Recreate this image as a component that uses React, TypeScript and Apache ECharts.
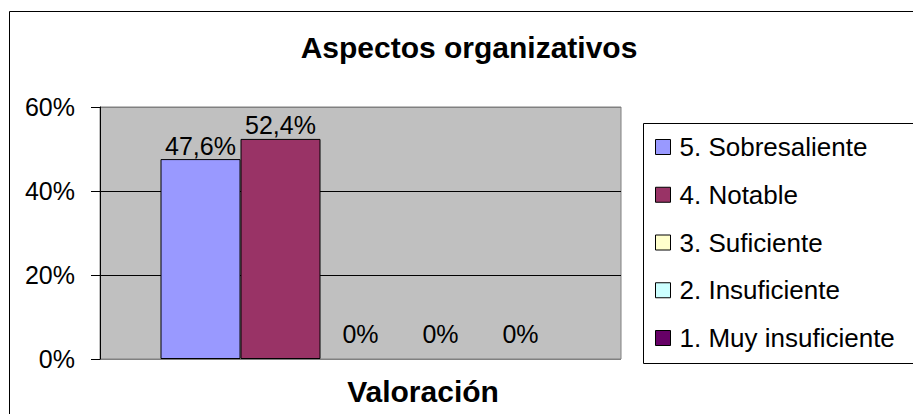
import React, { useEffect, useRef } from "react";
import * as echarts from "echarts";

const chartTitle = "Aspectos organizativos";
const axisTitle = "Valoración";
const categories = ["Valoración"];
const seriesNames = [
  "5. Sobresaliente",
  "4. Notable",
  "3. Suficiente",
  "2. Insuficiente",
  "1. Muy insuficiente",
];
const seriesValues = [47.6, 52.4, 0, 0, 0];
const seriesColors = ["#9999FF", "#993366", "#FFFFCC", "#CCFFFF", "#660066"];
const yMin = 0;
const yMax = 60;
const yInterval = 20;

const FONT = "'Liberation Sans', Arial, sans-serif";

function fmt(v: number): string {
  if (v === 0) return "0%";
  return v.toFixed(1).replace(".", ",") + "%";
}

export default function App() {
  const ref = useRef<HTMLDivElement>(null);
  useEffect(() => {
    if (!ref.current) return;
    const chart = echarts.init(ref.current, undefined, { renderer: "svg" });
    const series = seriesNames.map((name, i) => {
      const v = seriesValues[i];
      return {
        name,
        type: "bar",
        barWidth: 80,
        barGap: "0%",
        itemStyle: { color: seriesColors[i], borderColor: "#000", borderWidth: 1 },
        label: {
          show: true,
          position: "top",
          distance: 1,
          fontSize: 25,
          color: "#000",
          fontFamily: FONT,
          formatter: (p: any) => fmt(p.value),
        },
        data: [
          v === 0
            ? { value: v, itemStyle: { borderWidth: 0 }, label: { distance: 13 } }
            : { value: v },
        ],
      };
    });
    chart.setOption({
      animation: false,
      backgroundColor: "#fff",
      textStyle: { fontFamily: FONT },
      grid: {
        left: 100,
        top: 107,
        width: 521,
        height: 252,
        show: true,
        backgroundColor: "#C0C0C0",
        borderColor: "#808080",
        borderWidth: 1,
      },
      xAxis: {
        type: "category",
        data: categories,
        axisLine: { show: false },
        axisTick: { show: false },
        axisLabel: { show: false },
        splitLine: { show: false },
      },
      yAxis: {
        type: "value",
        min: yMin,
        max: yMax,
        interval: yInterval,
        axisLine: { show: true, lineStyle: { color: "#000", width: 1 } },
        axisTick: { show: true, length: 9, lineStyle: { color: "#000" } },
        axisLabel: {
          formatter: "{value}%",
          fontSize: 25,
          color: "#000",
          margin: 25,
          fontFamily: FONT,
        },
        splitLine: {
          show: true,
          lineStyle: { color: ["#808080", "#000", "#000", "#808080"], width: 1 },
        },
      },
      legend: {
        orient: "vertical",
        left: 655,
        top: 134,
        padding: 0,
        itemWidth: 15,
        itemHeight: 15,
        itemGap: 21.75,
        icon: "rect",
        itemStyle: { borderColor: "#000", borderWidth: 1 },
        textStyle: {
          fontSize: 26,
          lineHeight: 26,
          color: "#000",
          fontFamily: FONT,
          padding: [0, 0, 0, 4],
        },
        data: seriesNames,
      },
      graphic: [
        {
          type: "rect",
          shape: { x: 9.5, y: 11.5, width: 1000, height: 1000 },
          style: { fill: "none", stroke: "#000", lineWidth: 1 },
          silent: true,
          z: -1,
        },
        {
          type: "rect",
          shape: { x: 643.5, y: 123.5, width: 400, height: 240 },
          style: { fill: "#fff", stroke: "#000", lineWidth: 1 },
          silent: true,
          z: -1,
        },
        {
          type: "text",
          x: 469,
          y: 47,
          style: {
            text: chartTitle,
            fill: "#000",
            font: `bold 30px ${FONT}`,
            align: "center",
            verticalAlign: "middle",
            textAlign: "center",
            textVerticalAlign: "middle",
          },
        },
        {
          type: "text",
          x: 423,
          y: 391,
          style: {
            text: axisTitle,
            fill: "#000",
            font: `bold 30px ${FONT}`,
            align: "center",
            verticalAlign: "middle",
            textAlign: "center",
            textVerticalAlign: "middle",
          },
        },
      ],
      series,
    });
    return () => chart.dispose();
  }, []);
  return (
    <div
      ref={ref}
      style={{ position: "fixed", left: 0, top: 0, width: 913, height: 414, background: "#fff" }}
    />
  );
}
